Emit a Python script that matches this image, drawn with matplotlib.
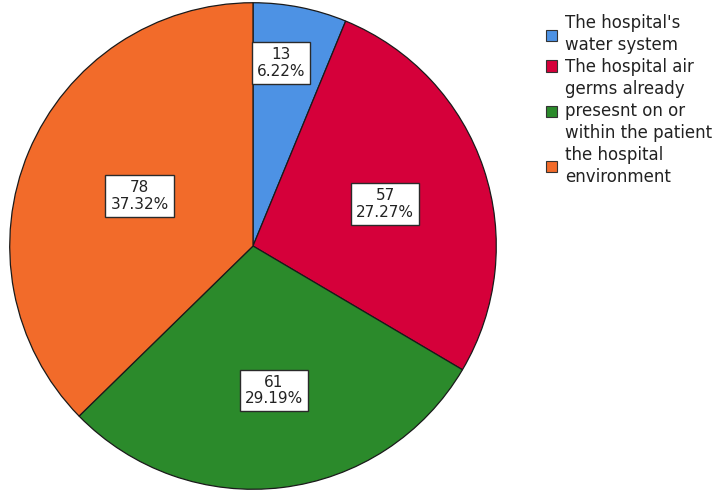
import numpy as np
import matplotlib
matplotlib.use("Agg")
import matplotlib.pyplot as plt
from matplotlib.patches import Patch

# infection source survey answers
sources = ["The hospital's\nwater system",
           "The hospital air",
           "germs already\npresesnt on or\nwithin the patient",
           "the hospital\nenvironment"]
counts = [13, 57, 61, 78]
colors = ["#4d92e4", "#d5003a", "#2b8a2b", "#f26b2a"]

# where each count/percent box sits inside its slice
label_r = [0.76, 0.57, 0.60, 0.51]
label_nudge = [2.5, -1.0, 1.4, -1.0]   # degrees

fig = plt.figure(figsize=(7.16, 4.92), dpi=100)
ax = fig.add_axes([9 / 716, 2 / 492, 488 / 716, 488 / 492])

wedges, _ = ax.pie(counts, colors=colors, startangle=90, counterclock=False,
                   radius=1.0,
                   wedgeprops=dict(edgecolor="#1a1a1a", linewidth=0.9))
ax.set_xlim(-1.003, 1.003)
ax.set_ylim(-1.003, 1.003)
ax.set_aspect("equal")
ax.axis("off")

total = sum(counts)
for w, n, r, dn in zip(wedges, counts, label_r, label_nudge):
    ang = np.deg2rad((w.theta1 + w.theta2) / 2 + dn)
    pct = 100.0 * n / total
    ax.text(r * np.cos(ang), r * np.sin(ang), f"{n}\n{pct:.2f}%",
            ha="center", va="center", fontsize=11, color="#222222",
            linespacing=1.15,
            bbox=dict(boxstyle="square,pad=0.32", facecolor="white",
                      edgecolor="#2a2a2a", linewidth=1.0))

handles = [Patch(facecolor=c, edgecolor="#333333", linewidth=0.8) for c in colors]
leg = fig.legend(handles, sources, loc="upper left",
                 bbox_to_anchor=(546 / 716, 1 - 14 / 492),
                 frameon=False, fontsize=12, borderpad=0, borderaxespad=0,
                 handlelength=0.65, handleheight=0.65, handletextpad=0.5,
                 labelspacing=0.22)
for t in leg.get_texts():
    t.set_linespacing(1.3)
    t.set_color("#222222")

fig.savefig("out.png", dpi=100)
